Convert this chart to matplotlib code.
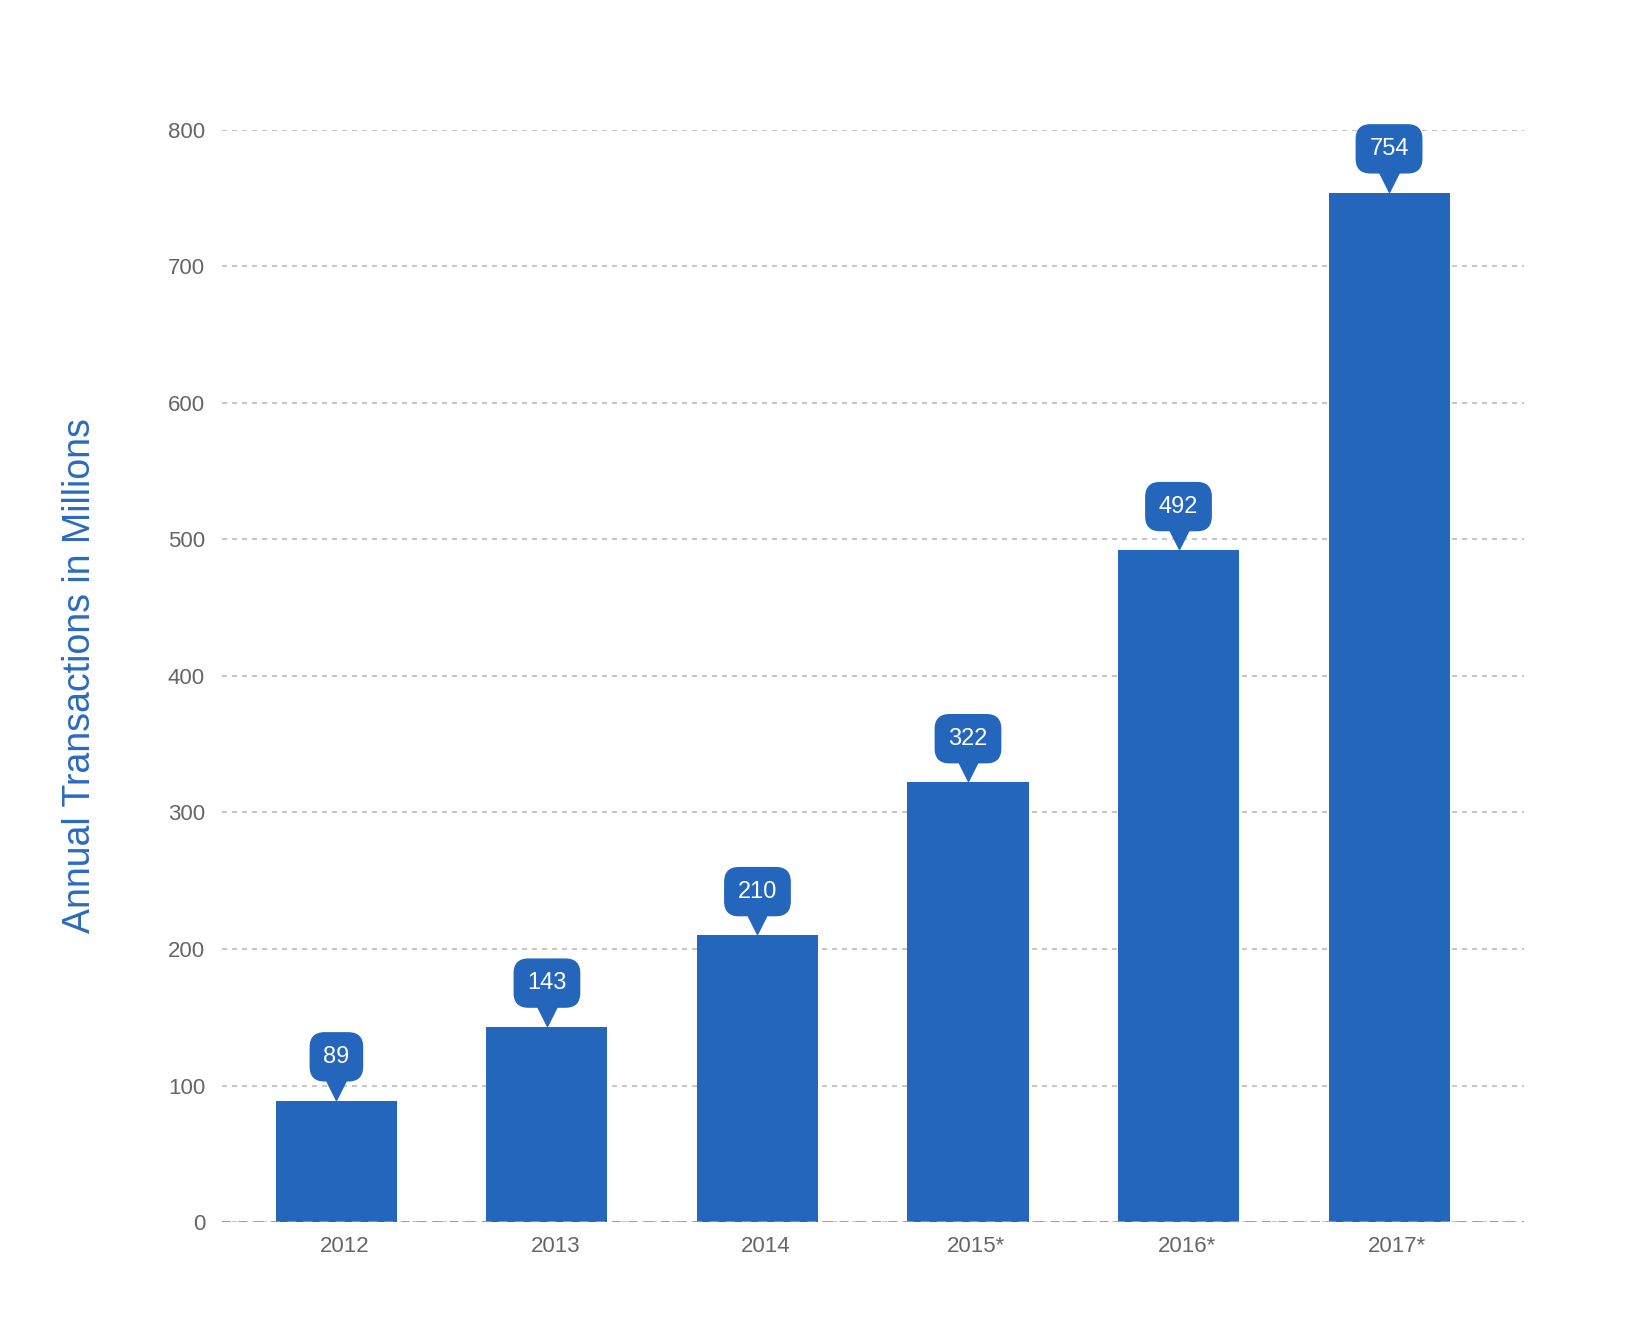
import matplotlib
matplotlib.use("Agg")
import matplotlib.pyplot as plt

categories = ["2012", "2013", "2014", "2015*", "2016*", "2017*"]
values = [89, 143, 210, 322, 492, 754]
yticks = [0, 100, 200, 300, 400, 500, 600, 700, 800]

plt.rcParams['font.family'] = ['Liberation Sans', 'DejaVu Sans']
blue = "#2366bb"
fig = plt.figure(figsize=(16.42, 13.24), dpi=100)
ax = fig.add_axes([0.135, 0.077, 0.793, 0.825])
x = list(range(len(categories)))
ax.bar(x, values, width=0.575, color=blue, zorder=3)
ax.set_xlim(-0.545, 5.64)
ax.set_ylim(0, 800)
ax.set_yticks(yticks)
ax.set_xticks([i + 0.04 for i in x])
ax.set_xticklabels(categories)
ax.tick_params(length=0, colors="#666666", labelsize=16, pad=10)
ax.tick_params(axis='y', pad=12)
for s in ax.spines.values():
    s.set_visible(False)
ax.grid(axis='y', linestyle=(0, (3, 3)), color="#bbbbbb", linewidth=1.2, zorder=0)
ax.axhline(0, linestyle=(0, (5, 4)), color="#999999", linewidth=1.3, zorder=4)
for xi, v in zip(x, values):
    ax.plot(xi, v + 8, marker='v', markersize=14, color=blue, zorder=5, clip_on=False)
    ax.text(xi, v + 32, str(v), ha='center', va='center', color='white', fontsize=17,
            zorder=6, clip_on=False,
            bbox=dict(boxstyle="round,pad=0.55,rounding_size=0.6", fc=blue, ec=blue))
ax.set_ylabel("Annual Transactions in Millions", color="#2a6ac0", fontsize=27, labelpad=50)
fig.savefig("out.png", dpi=100, facecolor="white")
